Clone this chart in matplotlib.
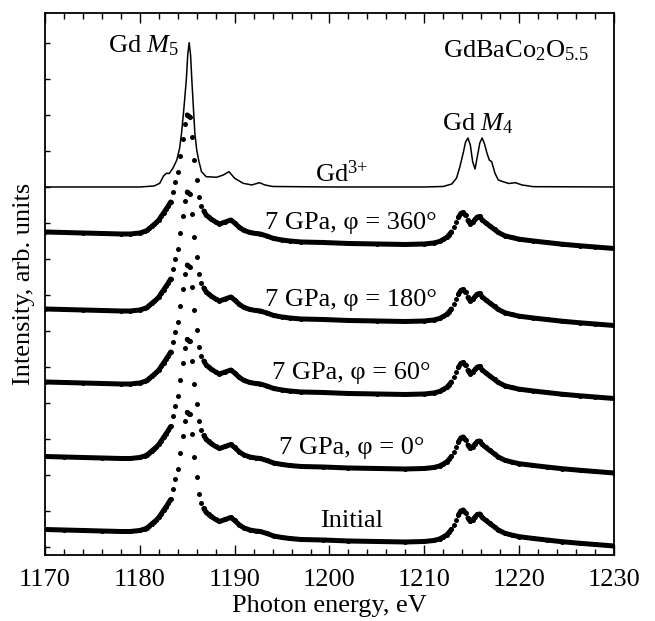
import numpy as np
import matplotlib.pyplot as plt
from matplotlib.ticker import MultipleLocator, FixedLocator

plt.rcParams['font.family'] = 'Liberation Serif'
plt.rcParams['mathtext.fontset'] = 'custom'
plt.rcParams['mathtext.rm'] = 'Liberation Serif'
plt.rcParams['mathtext.it'] = 'Liberation Serif:italic'
plt.rcParams['font.size'] = 19

# calculated Gd3+ atomic multiplet spectrum (arb. units)
calc_energy = [1170.0, 1180.0, 1181.5, 1182.1, 1182.5, 1182.8, 1183.1, 1183.5, 1183.9,
               1184.2, 1184.4, 1184.65, 1184.9, 1185.05, 1185.2, 1185.35, 1185.5, 1185.65,
               1185.8, 1186.0, 1186.2, 1186.5, 1187.0, 1188.1, 1188.8, 1189.4, 1190.0,
               1190.9, 1191.8, 1192.6, 1193.2, 1194.0, 1200.0, 1210.0, 1212.0, 1212.9,
               1213.4, 1213.75, 1214.1, 1214.35, 1214.6, 1214.85, 1215.1, 1215.35, 1215.6,
               1215.85, 1216.1, 1216.35, 1216.6, 1216.85, 1217.1, 1217.45, 1217.8, 1218.3,
               1218.9, 1219.6, 1220.3, 1221.5, 1230.0]
calc_intensity = [368.0, 368.0, 369.0, 371.7, 379.0, 381.7, 381.5, 387.0, 395.0,
                  407.0, 422.0, 447.0, 475.0, 500.0, 512.3, 500.0, 472.0, 447.0,
                  422.0, 405.0, 395.0, 383.3, 378.3, 377.7, 380.0, 383.3, 376.7,
                  371.7, 370.0, 372.3, 370.0, 368.5, 368.0, 368.0, 368.5, 371.0,
                  377.0, 388.3, 402.0, 413.0, 417.0, 410.0, 393.0, 386.0, 399.0,
                  412.0, 417.0, 411.0, 402.0, 395.0, 393.3, 381.7, 375.0, 373.3,
                  371.5, 372.3, 370.0, 368.3, 368.0]

# measured Gd M4,5 XAS (arb. units, relative to start of each trace)
exp_energy = [1170.0, 1172.0, 1174.0, 1176.0, 1178.0, 1179.0, 1180.0, 1180.5, 1180.75,
              1181.0, 1181.25, 1181.5, 1181.75, 1182.0, 1182.25, 1182.5, 1182.75, 1183.0,
              1183.25, 1183.5, 1183.75, 1184.0, 1184.25, 1184.5, 1184.75, 1185.0, 1185.25,
              1185.5, 1185.75, 1186.0, 1186.25, 1186.5, 1186.75, 1187.0, 1187.25, 1187.5,
              1188.0, 1188.4, 1189.0, 1189.6, 1190.0, 1190.5, 1191.0, 1191.6, 1192.2,
              1192.7, 1193.4, 1194.1, 1195.0, 1195.8, 1197.0, 1199.3, 1202.0, 1205.0,
              1208.0, 1210.0, 1211.0, 1211.6, 1212.0, 1212.35, 1212.6, 1212.85, 1213.1,
              1213.35, 1213.6, 1213.85, 1214.1, 1214.35, 1214.6, 1214.85, 1215.1, 1215.35,
              1215.6, 1215.85, 1216.1, 1216.5, 1216.9, 1217.4, 1217.8, 1218.5, 1219.2,
              1220.0, 1221.5, 1222.9, 1224.5, 1226.4, 1228.0, 1230.0]
exp_intensity = [0.0, -0.5, -1.0, -1.5, -2.0, -2.0, -1.0, 0.5, 1.5,
                 3.5, 5.5, 7.5, 9.5, 12.0, 15.5, 19.0, 22.5, 26.0,
                 30.0, 40.0, 50.0, 60.0, 76.0, 93.0, 108.0, 117.0, 115.0,
                 95.0, 72.0, 52.0, 35.0, 26.0, 21.0, 17.0, 15.0, 13.0,
                 10.0, 8.0, 10.0, 12.0, 9.0, 4.5, 1.5, -0.5, -1.5,
                 -2.0, -4.0, -6.5, -8.0, -9.0, -10.0, -10.5, -11.5, -12.0,
                 -12.5, -12.0, -11.0, -9.5, -7.5, -5.5, -3.0, 0.0, 4.5,
                 9.5, 14.5, 18.5, 19.5, 16.5, 11.5, 8.0, 9.5, 12.5,
                 15.0, 15.5, 12.0, 9.0, 6.0, 2.5, -0.5, -3.8, -5.5,
                 -7.2, -9.0, -10.5, -12.2, -13.8, -15.0, -16.5]

sample_labels = ['7 GPa, φ = 360°', '7 GPa, φ = 180°', '7 GPa, φ = 60°',
                 '7 GPa, φ = 0°', 'Initial']
sample_offsets = [323.0, 246.0, 173.0, 98.5, 25.5]

fig = plt.figure(figsize=(6.55, 6.21), dpi=100)
ax = fig.add_axes([0.0687, 0.1063, 0.8687, 0.8728])

ax.plot(calc_energy, calc_intensity, color='black', lw=1.1)

x = np.array(exp_energy)
for off, lab in zip(sample_offsets, sample_labels):
    y = np.array(exp_intensity) + off
    # join neighbouring points only where the trace is flat enough for the dots to merge
    xs, ys = [x[0]], [y[0]]
    for i in range(1, len(x)):
        if abs(y[i] - y[i - 1]) / (x[i] - x[i - 1]) > 16:
            xs.append(np.nan)
            ys.append(np.nan)
        xs.append(x[i])
        ys.append(y[i])
    ax.plot(xs, ys, color='black', lw=3.6, solid_capstyle='round')
    ax.plot(x, y, 'o', color='black', ms=3.6, mew=0)
    ax.text(1202.3, off + 2.5, lab, ha='center', va='baseline')

ax.text(1176.6, 503, 'Gd $M_5$', ha='left', va='baseline')
ax.text(1211.9, 425, 'Gd $M_4$', ha='left', va='baseline')
ax.text(1212.0, 498, 'GdBaCo$_2$O$_{5.5}$', ha='left', va='baseline')
ax.text(1198.5, 373.3, 'Gd$^{3{+}}$', ha='left', va='baseline')

ax.set_xlim(1170, 1230)
ax.set_ylim(0, 542)
ax.xaxis.set_major_locator(MultipleLocator(10))
ax.xaxis.set_minor_locator(MultipleLocator(2))
ax.yaxis.set_major_locator(FixedLocator(np.arange(512, 0, -36.0)))
ax.tick_params(axis='x', which='both', direction='in', top=True, pad=10)
ax.tick_params(axis='x', which='major', length=7, width=1)
ax.tick_params(axis='x', which='minor', length=4, width=1)
ax.tick_params(axis='y', which='both', direction='in', left=True, right=False,
               labelleft=False, length=3.5, width=1)
for spine in ax.spines.values():
    spine.set_linewidth(1.3)

ax.set_xlabel('Photon energy, eV', labelpad=3)
ax.set_ylabel('Intensity, arb. units', labelpad=7)

fig.savefig('out.png', dpi=100)
